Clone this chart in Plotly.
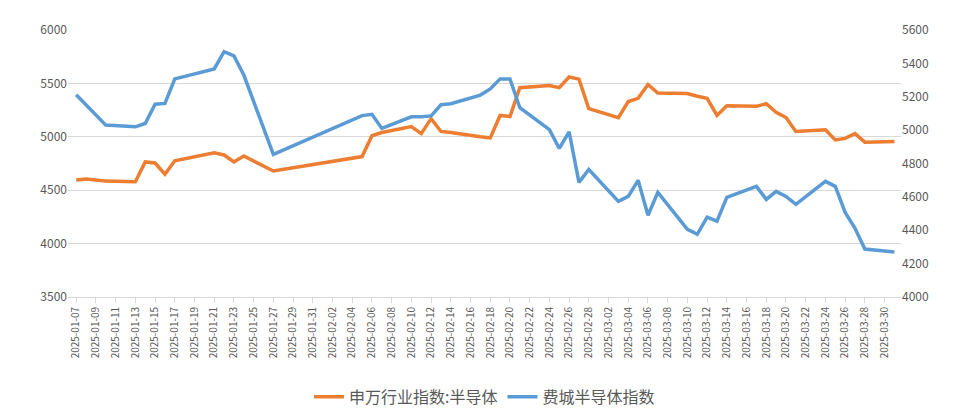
import plotly.graph_objects as go

dates = [
    "2025-01-07", "2025-01-08", "2025-01-09", "2025-01-10", "2025-01-13", "2025-01-14",
    "2025-01-15", "2025-01-16", "2025-01-17", "2025-01-20", "2025-01-21", "2025-01-22",
    "2025-01-23", "2025-01-24", "2025-01-27", "2025-02-05", "2025-02-06", "2025-02-07",
    "2025-02-10", "2025-02-11", "2025-02-12", "2025-02-13", "2025-02-14", "2025-02-17",
    "2025-02-18", "2025-02-19", "2025-02-20", "2025-02-21", "2025-02-24", "2025-02-25",
    "2025-02-26", "2025-02-27", "2025-02-28", "2025-03-03", "2025-03-04", "2025-03-05",
    "2025-03-06", "2025-03-07", "2025-03-10", "2025-03-11", "2025-03-12", "2025-03-13",
    "2025-03-14", "2025-03-17", "2025-03-18", "2025-03-19", "2025-03-20", "2025-03-21",
    "2025-03-24", "2025-03-25", "2025-03-26", "2025-03-27", "2025-03-28", "2025-03-31",
]

sw_semi = [
    4595, 4605, 4595, 4585, 4580, 4765, 4755, 4650, 4775, 4830, 4850, 4830,
    4765, 4820, 4680, 4815, 5010, 5040, 5095, 5030, 5170, 5050, 5040, 5000,
    4990, 5200, 5190, 5460, 5480, 5460, 5560, 5540, 5263, 5179, 5330, 5360,
    5490, 5410, 5405, 5380, 5360, 5200, 5290, 5285, 5310, 5230, 5180, 5050,
    5065, 4970, 4985, 5030, 4950, 4955,
]

sox = [
    5212, 5150, 5090, 5030, 5020, 5040, 5155, 5160, 5307, 5350, 5367, 5470,
    5445, 5330, 4855, 5087, 5095, 5010, 5080, 5080, 5085, 5152, 5158, 5210,
    5247, 5307, 5307, 5134, 5003, 4890, 4990, 4687, 4764, 4573, 4603, 4699,
    4490, 4627, 4406, 4376, 4478, 4454, 4597, 4663, 4585, 4633, 4603, 4555,
    4693, 4663, 4507, 4412, 4287, 4269,
]

fig = go.Figure()
fig.add_trace(go.Scatter(x=dates, y=sw_semi, name="申万行业指数:半导体",
                         line=dict(color="#ED7D31", width=3.5)))
fig.add_trace(go.Scatter(x=dates, y=sox, name="费城半导体指数", yaxis="y2",
                         line=dict(color="#5B9BD5", width=3.5)))

fig.update_layout(
    width=956, height=418,
    plot_bgcolor="white", paper_bgcolor="white",
    font=dict(family="Noto Sans CJK SC", color="#595959"),
    margin=dict(l=60, r=63, t=14, b=126),
    xaxis=dict(
        type="date", range=["2025-01-06 04:00", "2025-03-31 16:00"],
        tick0="2025-01-07", dtick=2 * 86400000, tickformat="%Y-%m-%d",
        tickangle=-90, tickfont=dict(size=10, color="#595959"),
        showgrid=False, showline=True, linecolor="#D9D9D9",
        ticks="outside", ticklen=5, tickcolor="#D9D9D9",
    ),
    yaxis=dict(range=[3500, 6000], dtick=500, gridcolor="#D9D9D9",
               tickfont=dict(size=12), zeroline=False),
    yaxis2=dict(range=[4000, 5600], dtick=200, overlaying="y", side="right",
                showgrid=False, tickfont=dict(size=12), zeroline=False),
    legend=dict(orientation="h", x=0.5, xanchor="center", y=-0.31, yanchor="top",
                font=dict(size=16, color="#595959")),
)

fig.write_html("out.html")
